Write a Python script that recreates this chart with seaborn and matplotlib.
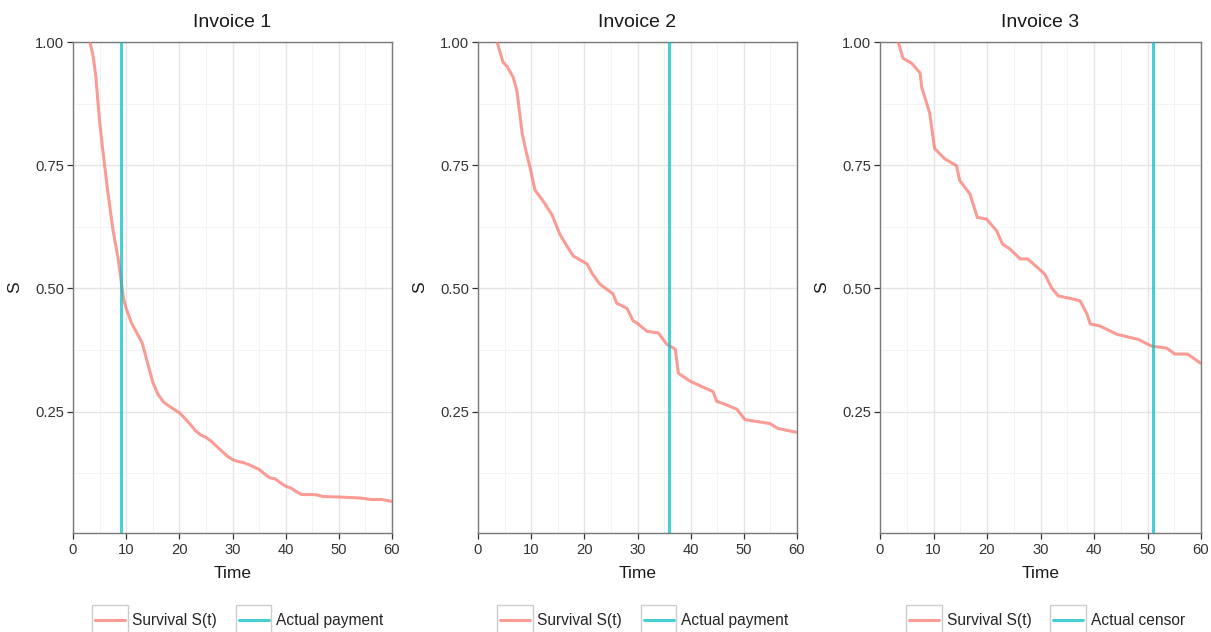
import numpy as np
import pandas as pd
import matplotlib
matplotlib.use("Agg")
import matplotlib.pyplot as plt
import seaborn as sns
from matplotlib.legend_handler import HandlerLine2D
from matplotlib.patches import Rectangle
from matplotlib.lines import Line2D
from matplotlib.ticker import MultipleLocator, FixedLocator

# ---------------- data ----------------
titles = ["Invoice 1", "Invoice 2", "Invoice 3"]
event_labels = ["Actual payment", "Actual payment", "Actual censor"]
event_times = [9, 36, 51]
surv_label = "Survival S(t)"

inv1_time = [3.2, 3.8, 4.3, 4.6, 5.0, 5.5, 6.0, 6.5, 7.0, 7.5, 8.0, 8.5, 9.0, 9.5, 10.0,
             11, 12, 13, 14, 15, 16, 17, 18, 19, 20, 21, 22, 23, 24, 25, 26, 27, 28, 29,
             30, 31, 32, 33, 34, 35, 36, 37, 38, 39, 40, 41, 42, 43, 45, 46, 47, 50, 52,
             54, 56, 58, 60]
inv1_surv = [1.0, 0.97, 0.93, 0.89, 0.84, 0.79, 0.745, 0.70, 0.66, 0.62, 0.59, 0.56, 0.52,
             0.48, 0.46, 0.43, 0.41, 0.39, 0.35, 0.31, 0.285, 0.27, 0.262, 0.255, 0.248,
             0.237, 0.225, 0.212, 0.203, 0.198, 0.19, 0.18, 0.17, 0.16, 0.153, 0.149,
             0.147, 0.143, 0.138, 0.133, 0.124, 0.116, 0.114, 0.106, 0.099, 0.095, 0.088,
             0.082, 0.082, 0.081, 0.078, 0.077, 0.076, 0.075, 0.072, 0.072, 0.068]

inv2_time = [3.6, 4.7, 5.5, 6.6, 7.3, 7.8, 8.3, 9.0, 9.8, 10.7, 12.2, 13.9, 15.4, 16.5,
             17.9, 20.5, 21.5, 22.9, 25.4, 26.1, 28.0, 29.2, 29.9, 31.8, 33.9, 35.5, 37.1,
             37.7, 39.9, 42.3, 44.2, 44.9, 46.5, 48.7, 50.2, 54.9, 56.4, 60]
inv2_surv = [1.0, 0.959, 0.95, 0.929, 0.902, 0.86, 0.815, 0.78, 0.745, 0.70, 0.678, 0.65,
             0.61, 0.59, 0.566, 0.55, 0.53, 0.509, 0.489, 0.47, 0.46, 0.434, 0.43, 0.413,
             0.41, 0.387, 0.377, 0.328, 0.312, 0.30, 0.291, 0.271, 0.265, 0.255, 0.234,
             0.226, 0.216, 0.208]

inv3_time = [3.4, 4.3, 5.9, 7.5, 7.8, 8.6, 9.3, 10.2, 12.1, 14.3, 14.9, 16.8, 18.2, 19.9,
             21.8, 22.9, 24.3, 26.2, 27.6, 29.5, 30.8, 32.1, 33.3, 35.9, 37.4, 38.7, 39.3,
             41.1, 44.3, 48.2, 50.8, 53.6, 55.1, 57.5, 60]
inv3_surv = [1.0, 0.967, 0.957, 0.937, 0.908, 0.88, 0.855, 0.784, 0.763, 0.749, 0.719,
             0.692, 0.644, 0.641, 0.617, 0.59, 0.58, 0.56, 0.56, 0.542, 0.529, 0.501,
             0.485, 0.479, 0.475, 0.448, 0.428, 0.424, 0.407, 0.397, 0.383, 0.379, 0.367,
             0.367, 0.348]

series = [(inv1_time, inv1_surv), (inv2_time, inv2_surv), (inv3_time, inv3_surv)]

x_ticks = [0, 10, 20, 30, 40, 50, 60]
y_ticks = [0.25, 0.50, 0.75, 1.00]
y_tick_labels = ["0.25", "0.50", "0.75", "1.00"]

# ---------------- style ----------------
sns.set_theme(style="white")
plt.rcParams['font.family'] = ['Liberation Sans', 'DejaVu Sans']

surv_color = "#F8766D"
event_color = "#00BFC4"
line_alpha = 0.72
lw = 2.2


class BoxedLineHandler(HandlerLine2D):
    def create_artists(self, legend, orig_handle, xdescent, ydescent,
                       width, height, fontsize, trans):
        rect = Rectangle((-xdescent, -ydescent), width, height,
                         facecolor="white", edgecolor="#CCCCCC", lw=1.0,
                         transform=trans)
        y = -ydescent + height / 2
        line = Line2D([-xdescent + width * 0.08, -xdescent + width * 0.92], [y, y],
                      color=orig_handle.get_color(), lw=orig_handle.get_linewidth(),
                      alpha=orig_handle.get_alpha(), transform=trans)
        return [rect, line]


fig = plt.figure(figsize=(12.11, 6.32), dpi=100)
lefts = [73, 478, 880]
rights = [392, 797, 1201]
top_px, bot_px = 42, 533
W, H = 1211, 632

for i in range(3):
    ax = fig.add_axes([lefts[i] / W, 1 - bot_px / H,
                       (rights[i] - lefts[i]) / W, (bot_px - top_px) / H])
    t, s = series[i]
    df = pd.DataFrame({"Time": t, "S": s})
    sns.lineplot(data=df, x="Time", y="S", ax=ax, estimator=None, sort=False,
                 color=surv_color, alpha=line_alpha, lw=lw, zorder=3)
    ax.axvline(event_times[i], color=event_color, alpha=line_alpha, lw=lw, zorder=4)

    ax.set_xlim(0, 60)
    ax.set_ylim(0.004, 1.0)
    ax.xaxis.set_major_locator(FixedLocator(x_ticks))
    ax.xaxis.set_minor_locator(MultipleLocator(5))
    ax.set_yticks(y_ticks)
    ax.set_yticklabels(y_tick_labels)
    ax.yaxis.set_minor_locator(FixedLocator([0.125, 0.375, 0.625, 0.875]))

    ax.grid(True, which="major", color="#E5E5E5", lw=1.0, zorder=0)
    ax.grid(True, which="minor", color="#F2F2F2", lw=0.6, zorder=0)
    ax.set_axisbelow(True)
    for sp in ax.spines.values():
        sp.set_color("#7A7A7A")
        sp.set_linewidth(1.0)
        sp.set_visible(True)

    ax.tick_params(axis="both", which="major", length=4, width=0.9, color="#333333",
                   labelsize=10.6, labelcolor="#333333", pad=3.5, direction="out",
                   bottom=True, left=True)
    ax.tick_params(axis="y", which="major", pad=2.5)
    ax.tick_params(axis="both", which="minor", length=0)

    ax.set_title(titles[i], fontsize=14, color="#1A1A1A", pad=11)
    ax.set_xlabel("Time", fontsize=12.5, color="#1A1A1A", labelpad=6)
    ax.set_ylabel("S", fontsize=12.5, color="#1A1A1A", labelpad=9)

    h1 = Line2D([], [], color=surv_color, lw=lw, alpha=line_alpha)
    h2 = Line2D([], [], color=event_color, lw=lw, alpha=line_alpha)
    ax.legend([h1, h2], [surv_label, event_labels[i]], ncol=2, frameon=False,
              loc="center", bbox_to_anchor=(0.516, -0.177), fontsize=11.2,
              handler_map={Line2D: BoxedLineHandler()},
              handlelength=2.3, handleheight=2.6, handletextpad=0.3,
              columnspacing=1.2, borderaxespad=0)

fig.savefig("out.png", dpi=100)
